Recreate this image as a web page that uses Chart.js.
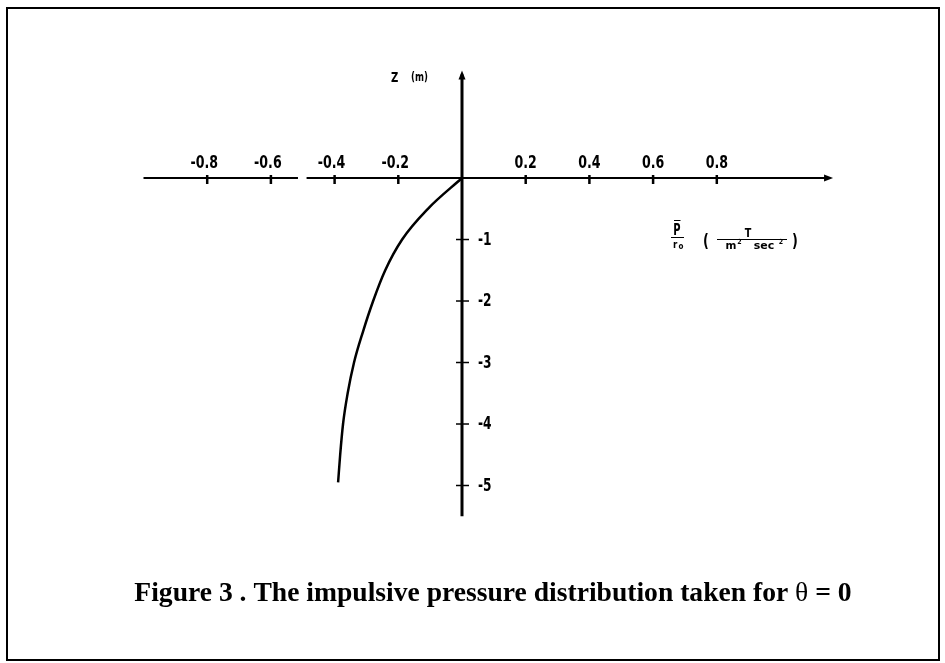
<!DOCTYPE html>
<html>
<head>
<meta charset="utf-8">
<script src="https://cdn.jsdelivr.net/npm/chart.js@4"></script>
<style>
  html, body { margin: 0; padding: 0; background: #fff; }
  #wrap { position: relative; width: 945px; height: 663px; }
</style>
</head>
<body>
<div id="wrap"><canvas id="pressure-chart"></canvas></div>
<script>
// Depth below the free surface (m)
const zValues = [0, -0.5, -1.0, -1.5, -2.0, -2.5, -3.0, -3.5, -4.0, -4.5, -4.95];
// Impulsive pressure P/r0
const pressureValues = [0, -0.107, -0.188, -0.241, -0.279, -0.311, -0.339, -0.359, -0.3735, -0.3825, -0.389];

const xTickValues = [-0.8, -0.6, -0.4, -0.2, 0.2, 0.4, 0.6, 0.8];
const xTickLabels = ['-0.8', '-0.6', '-0.4', '-0.2', '0.2', '0.4', '0.6', '0.8'];
const zTickValues = [-1, -2, -3, -4, -5];
const zTickLabels = ['-1', '-2', '-3', '-4', '-5'];

// extent of the drawn axes (data units)
const xAxisRange = [-1.0, 1.165];
const xAxisGap = [-0.515, -0.488];
const zAxisRange = [-5.5, 1.75];

const caption = 'Figure 3 . The impulsive pressure distribution taken for ';

const LABEL_FONT = "'DejaVu Sans', sans-serif";
const SERIF = "'Liberation Serif', 'Times New Roman', serif";

// draw text squeezed horizontally, the plot labels are a narrow plotter font
function narrowText(ctx, text, x, y, font, sx, align) {
    ctx.save();
    ctx.font = font;
    ctx.textAlign = align || 'left';
    ctx.translate(x, y);
    ctx.scale(sx, 1);
    ctx.fillText(text, 0, 0);
    ctx.restore();
}

function arrow(ctx, x, y, dir) {
    ctx.beginPath();
    if (dir === 'right') {
        ctx.moveTo(x, y);
        ctx.lineTo(x - 9, y - 3.5);
        ctx.lineTo(x - 9, y + 3.5);
    } else {
        ctx.moveTo(x, y);
        ctx.lineTo(x - 3.5, y + 9);
        ctx.lineTo(x + 3.5, y + 9);
    }
    ctx.closePath();
    ctx.fill();
}

const crossAxes = {
    id: 'crossAxes',
    beforeDatasetsDraw(chart) {
        const ctx = chart.ctx;
        const xs = chart.scales.x;
        const ys = chart.scales.y;
        const x0 = xs.getPixelForValue(0);
        const y0 = ys.getPixelForValue(0);

        ctx.save();
        ctx.strokeStyle = '#000';
        ctx.fillStyle = '#000';

        // frame
        ctx.lineWidth = 2;
        ctx.strokeRect(7, 8, 932, 652);

        // horizontal axis, with the small break near -0.5
        ctx.lineWidth = 2;
        ctx.beginPath();
        ctx.moveTo(xs.getPixelForValue(xAxisRange[0]), y0);
        ctx.lineTo(xs.getPixelForValue(xAxisGap[0]), y0);
        ctx.moveTo(xs.getPixelForValue(xAxisGap[1]), y0);
        ctx.lineTo(xs.getPixelForValue(xAxisRange[1]) - 4, y0);
        ctx.stroke();
        arrow(ctx, xs.getPixelForValue(xAxisRange[1]), y0, 'right');

        // vertical axis
        ctx.lineWidth = 3;
        ctx.beginPath();
        ctx.moveTo(x0, ys.getPixelForValue(zAxisRange[0]));
        ctx.lineTo(x0, ys.getPixelForValue(zAxisRange[1]) + 4);
        ctx.stroke();
        arrow(ctx, x0, ys.getPixelForValue(zAxisRange[1]), 'up');

        // ticks
        ctx.lineWidth = 2.5;
        xTickValues.forEach(v => {
            const px = xs.getPixelForValue(v);
            ctx.beginPath();
            ctx.moveTo(px, y0 - 3);
            ctx.lineTo(px, y0 + 6);
            ctx.stroke();
        });
        ctx.lineWidth = 1.5;
        zTickValues.forEach(v => {
            const py = ys.getPixelForValue(v);
            ctx.beginPath();
            ctx.moveTo(x0 - 6, py);
            ctx.lineTo(x0 + 7, py);
            ctx.stroke();
        });

        // tick labels
        ctx.textBaseline = 'alphabetic';
        xTickValues.forEach((v, i) => {
            narrowText(ctx, xTickLabels[i], xs.getPixelForValue(v) - (v < 0 ? 3 : 0), y0 - 10,
                'bold 18px ' + LABEL_FONT, 0.7, 'center');
        });
        ctx.textBaseline = 'middle';
        zTickValues.forEach((v, i) => {
            narrowText(ctx, zTickLabels[i], x0 + 16, ys.getPixelForValue(v) + 1,
                'bold 17px ' + LABEL_FONT, 0.72, 'left');
        });

        // axis title
        narrowText(ctx, 'Z', 391, 78, 'bold 14px ' + LABEL_FONT, 0.72, 'left');
        narrowText(ctx, '(m)', 411, 78, 'bold 12px ' + LABEL_FONT, 0.72, 'left');

        // unit label  P/r0 ( T / m^2 sec^2 )
        ctx.textBaseline = 'alphabetic';
        narrowText(ctx, 'P', 677, 235, 'bold 16px ' + LABEL_FONT, 0.62, 'center');
        ctx.lineWidth = 1.2;
        ctx.beginPath();
        ctx.moveTo(674, 220.5); ctx.lineTo(680.5, 220.5);
        ctx.moveTo(671, 237.5); ctx.lineTo(684, 237.5);
        ctx.stroke();
        narrowText(ctx, 'r', 673, 248, 'bold 11px ' + LABEL_FONT, 0.8, 'left');
        narrowText(ctx, 'o', 678.5, 249, 'bold 9px ' + LABEL_FONT, 0.8, 'left');
        narrowText(ctx, '(', 706, 247, 'bold 17px ' + LABEL_FONT, 0.75, 'center');
        narrowText(ctx, ')', 795, 247, 'bold 17px ' + LABEL_FONT, 0.75, 'center');
        narrowText(ctx, 'T', 748, 237, 'bold 12px ' + LABEL_FONT, 0.8, 'center');
        ctx.beginPath();
        ctx.moveTo(717, 239.5); ctx.lineTo(787, 239.5);
        ctx.stroke();
        narrowText(ctx, 'm', 731, 249, 'bold 11px ' + LABEL_FONT, 0.95, 'center');
        narrowText(ctx, 'sec', 764, 249, 'bold 11px ' + LABEL_FONT, 1.0, 'center');
        narrowText(ctx, '2', 739.5, 244, 'bold 7px ' + LABEL_FONT, 0.9, 'center');
        narrowText(ctx, '2', 781, 244, 'bold 7px ' + LABEL_FONT, 0.9, 'center');

        // caption
        const size = '27.6px ';
        ctx.textAlign = 'left';
        ctx.font = 'bold ' + size + SERIF;
        const w = ctx.measureText(caption).width;
        const wTail = ctx.measureText('= 0').width;
        ctx.font = size + SERIF;
        const wTheta = ctx.measureText('\u03B8 ').width;
        let cx = 493 - (w + wTheta + wTail) / 2;
        ctx.font = 'bold ' + size + SERIF;
        ctx.fillText(caption, cx, 601);
        cx += w;
        ctx.font = size + SERIF;
        ctx.fillText('\u03B8 ', cx, 601);
        cx += wTheta;
        ctx.font = 'bold ' + size + SERIF;
        ctx.fillText('= 0', cx, 601);

        ctx.restore();
    }
};

const points = zValues.map((z, i) => ({ x: pressureValues[i], y: z }));

new Chart(document.getElementById('pressure-chart'), {
    type: 'scatter',
    data: {
        datasets: [{
            label: 'P/r0',
            data: points,
            showLine: true,
            borderColor: '#000',
            borderWidth: 2.5,
            pointRadius: 0,
            cubicInterpolationMode: 'monotone',
            fill: false
        }]
    },
    options: {
        responsive: true,
        maintainAspectRatio: false,
        animation: false,
        layout: {
            padding: { left: 143.5, right: 100.8, top: 70.4, bottom: 146.75 }
        },
        plugins: {
            legend: { display: false },
            tooltip: { enabled: false }
        },
        scales: {
            x: { type: 'linear', min: -1.0, max: 1.2, display: false },
            y: { type: 'linear', min: -5.5, max: 1.75, display: false }
        }
    },
    plugins: [crossAxes]
});
</script>
</body>
</html>
